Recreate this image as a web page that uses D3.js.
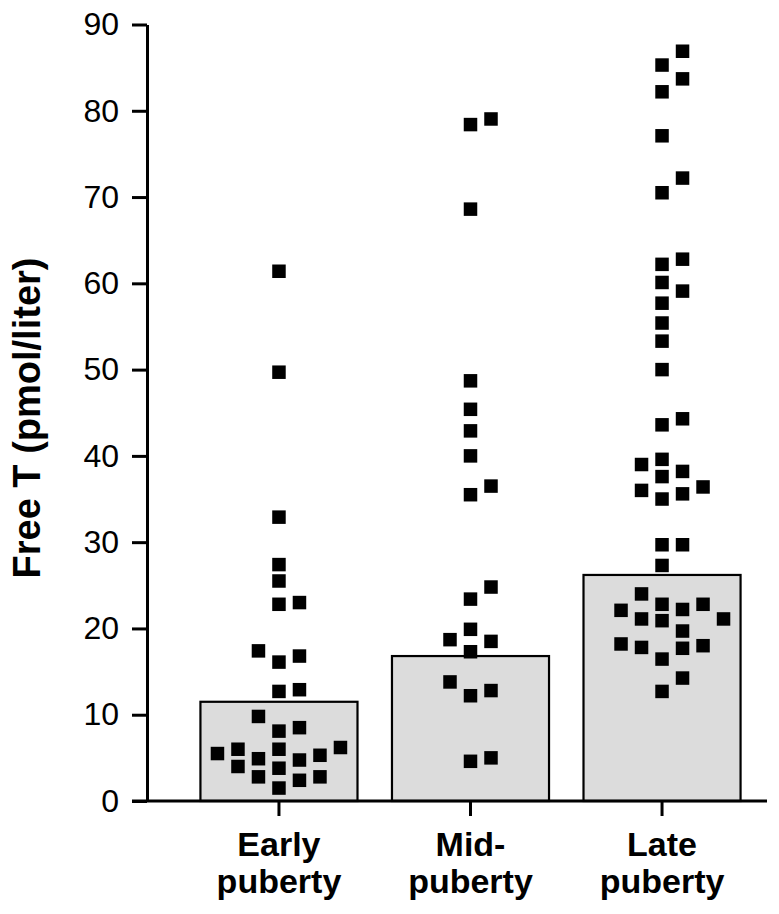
<!DOCTYPE html>
<html>
<head>
<meta charset="utf-8">
<script src="https://cdn.jsdelivr.net/npm/d3@7"></script>
<style>
html,body{margin:0;padding:0;background:#fff;}
svg{display:block;}
text{font-family:"Liberation Sans",Arial,Helvetica,sans-serif;fill:#000;}
</style>
</head>
<body>
<script>
// ---- data ----
const categories = ["Early puberty", "Mid-puberty", "Late puberty"];
const labelLines = [["Early", "puberty"], ["Mid-", "puberty"], ["Late", "puberty"]];
const barMeans = [11.5, 16.8, 26.2];

const earlyValues = [61.4, 49.7, 32.9, 27.4, 25.5, 22.8, 23.0, 17.4, 16.1, 16.8, 12.7, 12.9, 9.8, 8.1, 8.5,
  5.5, 6.0, 4.9, 6.0, 4.75, 5.3, 6.2, 4.0, 2.8, 3.8, 2.4, 2.8, 1.5];
const earlySlots = [0, 0, 0, 0, 0, 0, 1, -1, 0, 1, 0, 1, -1, 0, 1,
  -3, -2, -1, 0, 1, 2, 3, -2, -1, 0, 1, 2, 0];

const midValues = [78.4, 79.05, 68.6, 48.7, 45.4, 42.9, 40.0, 35.5, 36.5, 24.8, 23.4, 19.9, 18.7, 18.5, 17.3,
  13.8, 12.2, 12.8, 4.6, 5.0];
const midSlots = [0, 1, 0, 0, 0, 0, 0, 0, 1, 1, 0, 0, -1, 1, 0, -1, 0, 1, 0, 1];

const lateValues = [86.9, 85.3, 83.7, 82.2, 77.1, 72.2, 70.5, 62.8, 62.2, 60.1, 59.1, 57.7, 55.4, 53.3, 50.0, 44.3, 43.6,
  39.0, 39.6, 37.6, 38.2, 36.4, 36.0, 35.0, 35.6,
  29.7, 29.7, 27.3,
  24.0, 22.1, 22.8, 22.2, 22.8, 21.1, 21.1, 20.9, 19.7,
  18.2, 17.8, 17.7, 18.0, 16.45, 14.25, 12.7];
const lateSlots = [1, 0, 1, 0, 0, 1, 0, 1, 0, 0, 1, 0, 0, 0, 0, 1, 0,
  -1, 0, 0, 1, 2, -1, 0, 1,
  0, 1, 0,
  -1, -2, 0, 1, 2, 3, -1, 0, 1,
  -2, -1, 1, 2, 0, 1, 0];

const yTicks = [0, 10, 20, 30, 40, 50, 60, 70, 80, 90];
const yTitle = "Free T (pmol/liter)";

// ---- build ----
const W = 779, H = 914;
const svg = d3.select("body").append("svg").attr("width", W).attr("height", H);

const y = d3.scaleLinear().domain([0, 90]).range([801, 24.5]);
const x = d3.scaleBand().domain(categories).range([147, 794]).paddingInner(0.18).paddingOuter(0.279);
const slot = d3.scaleLinear().domain([0, 1]).range([0, 20.5]);

const groups = [
  {cat: categories[0], values: earlyValues, slots: earlySlots},
  {cat: categories[1], values: midValues, slots: midSlots},
  {cat: categories[2], values: lateValues, slots: lateSlots}
];

// bars
svg.append("g").selectAll("rect").data(categories).join("rect")
  .attr("x", d => x(d))
  .attr("y", (d, i) => y(barMeans[i]))
  .attr("width", x.bandwidth())
  .attr("height", (d, i) => y(0) - y(barMeans[i]))
  .attr("fill", "#dcdcdc")
  .attr("stroke", "#000")
  .attr("stroke-width", 2.2);

// points
const sq = 13.5;
groups.forEach(g => {
  const cx = x(g.cat) + x.bandwidth() / 2;
  svg.append("g").selectAll("rect").data(g.values).join("rect")
    .attr("x", (v, i) => cx + slot(g.slots[i]) - sq / 2)
    .attr("y", v => y(v) - sq / 2)
    .attr("width", sq).attr("height", sq)
    .attr("fill", "#000");
});

// y axis
const yAxis = d3.axisLeft(y).tickValues(yTicks).tickSize(15).tickSizeOuter(0).tickPadding(13);
const gy = svg.append("g").attr("transform", "translate(147,0)").call(yAxis);
gy.select(".domain").attr("stroke-width", 3);
gy.selectAll(".tick line").attr("stroke-width", 3);
gy.selectAll(".tick text").attr("font-size", 32).attr("font-family", "Liberation Sans, Arial, sans-serif").attr("fill", "#000");

// x axis
const xAxis = d3.axisBottom(x).tickSize(15).tickSizeOuter(0).tickFormat("");
const gx = svg.append("g").attr("transform", "translate(0,801)").call(xAxis);
gx.select(".domain").remove();
gx.selectAll(".tick line").attr("stroke-width", 3);
svg.append("line").attr("x1", 132).attr("x2", 767).attr("y1", 801).attr("y2", 801)
  .attr("stroke", "#000").attr("stroke-width", 3);

// x labels
const lab = svg.append("g");
categories.forEach((c, i) => {
  const cx = x(c) + x.bandwidth() / 2;
  labelLines[i].forEach((t, j) => {
    lab.append("text").attr("x", cx).attr("y", 856 + j * 37)
      .attr("text-anchor", "middle").attr("font-size", 34).attr("font-weight", "bold").text(t);
  });
});

// y title
svg.append("text")
  .attr("transform", "translate(40,418) rotate(-90)")
  .attr("text-anchor", "middle").attr("font-size", 38).attr("font-weight", "bold")
  .text(yTitle);
</script>
</body>
</html>
